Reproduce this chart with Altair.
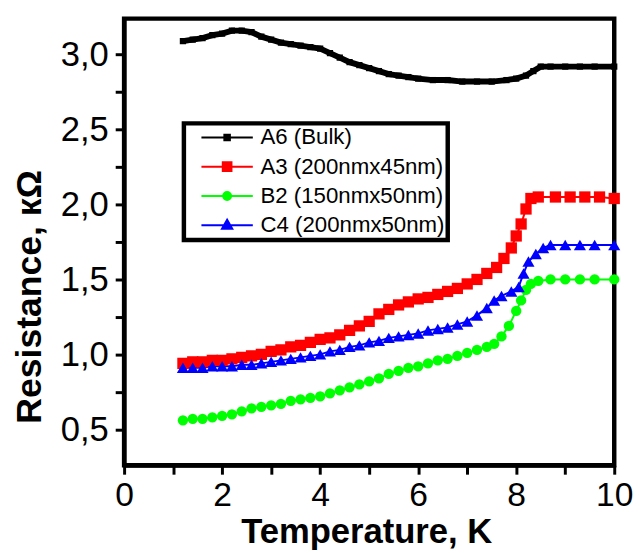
import altair as alt
import pandas as pd

series_names = ["A6 (Bulk)", "A3 (200nmx45nm)", "B2 (150nmx50nm)", "C4 (200nmx50nm)"]
series_colors = ["#000000", "#ff0000", "#00ff00", "#0000ff"]

# A6 (Bulk)
a6_t = [1.2, 1.4, 1.6, 1.8, 2.0, 2.2, 2.4, 2.6, 2.8, 3.0, 3.2, 3.4, 3.6, 3.8, 4.0, 4.2, 4.4, 4.6, 4.8, 5.0,
        5.2, 5.4, 5.6, 5.8, 6.0, 6.3, 6.6, 6.9, 7.2, 7.5, 7.8, 8.0, 8.2, 8.35, 8.5, 8.7, 9.0, 9.3, 9.6, 10.0]
a6_r = [3.09, 3.10, 3.11, 3.13, 3.14, 3.16, 3.16, 3.15, 3.12, 3.10, 3.08, 3.07, 3.06, 3.05, 3.04, 3.01, 2.98, 2.95, 2.93, 2.91,
        2.89, 2.87, 2.86, 2.85, 2.84, 2.83, 2.83, 2.82, 2.82, 2.82, 2.83, 2.84, 2.86, 2.89, 2.92, 2.92, 2.92, 2.92, 2.92, 2.92]

# A3 (200nm x 45nm)
a3_t = [1.2, 1.4, 1.6, 1.8, 2.0, 2.2, 2.4, 2.6, 2.8, 3.0, 3.2, 3.4, 3.6, 3.8, 4.0, 4.2, 4.4, 4.6, 4.8, 5.0,
        5.2, 5.4, 5.6, 5.8, 6.0, 6.2, 6.4, 6.6, 6.8, 7.0, 7.2, 7.4, 7.6, 7.75, 7.9, 8.0, 8.1, 8.2, 8.3, 8.45,
        8.8, 9.1, 9.4, 9.7, 10.0]
a3_r = [0.94, 0.95, 0.95, 0.96, 0.96, 0.97, 0.98, 0.99, 1.00, 1.02, 1.03, 1.05, 1.06, 1.08, 1.10, 1.11, 1.13, 1.16, 1.19, 1.22,
        1.27, 1.30, 1.33, 1.35, 1.37, 1.38, 1.40, 1.42, 1.44, 1.47, 1.50, 1.54, 1.58, 1.64, 1.71, 1.79, 1.87, 1.97, 2.04, 2.05,
        2.05, 2.05, 2.05, 2.05, 2.04]

# B2 (150nm x 50nm)
b2_t = [1.2, 1.4, 1.6, 1.8, 2.0, 2.2, 2.4, 2.6, 2.8, 3.0, 3.2, 3.4, 3.6, 3.8, 4.0, 4.2, 4.4, 4.6, 4.8, 5.0,
        5.2, 5.4, 5.6, 5.8, 6.0, 6.2, 6.4, 6.6, 6.8, 7.0, 7.2, 7.4, 7.55, 7.7, 7.85, 8.0, 8.1, 8.2, 8.3, 8.45,
        8.7, 9.0, 9.3, 9.6, 10.0]
b2_r = [0.56, 0.57, 0.57, 0.58, 0.59, 0.60, 0.62, 0.64, 0.65, 0.66, 0.67, 0.69, 0.70, 0.71, 0.72, 0.74, 0.76, 0.78, 0.80, 0.82,
        0.84, 0.87, 0.89, 0.91, 0.92, 0.94, 0.96, 0.97, 0.99, 1.01, 1.03, 1.05, 1.07, 1.12, 1.19, 1.29, 1.36, 1.43, 1.47, 1.49,
        1.50, 1.50, 1.50, 1.50, 1.50]

# C4 (200nm x 50nm)
c4_t = [1.2, 1.4, 1.6, 1.8, 2.0, 2.2, 2.4, 2.6, 2.8, 3.0, 3.2, 3.4, 3.6, 3.8, 4.0, 4.2, 4.4, 4.6, 4.8, 5.0,
        5.2, 5.4, 5.6, 5.8, 6.0, 6.2, 6.4, 6.6, 6.8, 7.0, 7.2, 7.4, 7.55, 7.7, 7.9, 8.05, 8.15, 8.25, 8.4, 8.55,
        8.7, 9.0, 9.3, 9.6, 10.0]
c4_r = [0.91, 0.91, 0.91, 0.92, 0.92, 0.92, 0.93, 0.93, 0.94, 0.95, 0.96, 0.97, 0.98, 0.99, 1.00, 1.02, 1.03, 1.05, 1.06, 1.08,
        1.09, 1.11, 1.12, 1.13, 1.14, 1.16, 1.17, 1.18, 1.20, 1.22, 1.26, 1.31, 1.36, 1.39, 1.42, 1.45, 1.54, 1.62, 1.67, 1.71,
        1.73, 1.73, 1.73, 1.73, 1.73]

x_ticks = list(range(0, 11))
y_ticks = [0.5, 0.75, 1.0, 1.25, 1.5, 1.75, 2.0, 2.25, 2.5, 2.75, 3.0]

# legend symbols: a line with the marker in its centre
legend_paths = [
    "M-3.25,0H3.25M-0.35,-0.35H0.35V0.35H-0.35Z",
    "M-3.25,0H3.25M-0.55,-0.55H0.55V0.55H-0.55Z",
    "M-3.25,0H3.25M-0.5,0A0.5,0.5,0,1,0,0.5,0A0.5,0.5,0,1,0,-0.5,0Z",
    "M-3.25,0H3.25M0,-0.7L0.65,0.45H-0.65Z",
]

rows = []
for name, ts, rs in zip(series_names, [a6_t, a3_t, b2_t, c4_t], [a6_r, a3_r, b2_r, c4_r]):
    for t, r in zip(ts, rs):
        rows.append({"series": name, "T": t, "R": r})
df = pd.DataFrame(rows)

FONT = "Liberation Sans, Arial, sans-serif"

x_enc = alt.X(
    "T:Q",
    scale=alt.Scale(domain=[0, 10], nice=False, zero=False),
    axis=alt.Axis(
        values=x_ticks,
        labelExpr="datum.value % 2 == 0 ? datum.label : ''",
        title="Temperature, K",
        titleFont=FONT, titleFontSize=35, titleFontWeight="bold", titleColor="black",
        titleBaseline="alphabetic", titleY=78, titleX=245, titleAnchor="middle",
        labelFont=FONT, labelFontSize=34, labelColor="black", labelPadding=4.5,
        labelFlush=False, labelOverlap=False,
        domainColor="black", domainWidth=4, tickColor="black", tickWidth=3, tickSize=9,
        grid=False,
    ),
)
y_enc = alt.Y(
    "R:Q",
    scale=alt.Scale(domain=[0.26, 3.24], nice=False, zero=False),
    axis=alt.Axis(
        values=y_ticks,
        labelExpr="datum.value % 0.5 == 0 ? replace(format(datum.value, '.1f'), '.', ',') : ''",
        title="Resistance, кΩ",
        titleFont=FONT, titleFontSize=36, titleFontWeight="bold", titleColor="black",
        titleAngle=270, titleBaseline="alphabetic", titleX=-84.5, titleY=281, titleAlign="center",
        labelFont=FONT, labelFontSize=35, labelColor="black", labelPadding=7,
        labelFlush=False, labelOverlap=False,
        domainColor="black", domainWidth=4, tickColor="black", tickWidth=3, tickSize=9,
        grid=False,
    ),
)

base = alt.Chart(df)
layers = []

line_widths = [6, 2, 2, 2]
for name, col, lw in zip(series_names, series_colors, line_widths):
    layers.append(
        base.transform_filter(alt.datum.series == name)
        .mark_line(color=col, strokeWidth=lw)
        .encode(x=x_enc, y=y_enc)
    )

marker_marks = [
    dict(kind="square", size=40),
    dict(kind="square", size=130),
    dict(kind="circle", size=110),
    dict(kind="triangle", size=150),
]
for name, col, mm in zip(series_names, series_colors, marker_marks):
    b = base.transform_filter(alt.datum.series == name)
    if mm["kind"] == "square":
        m = b.mark_square(color=col, size=mm["size"], opacity=1)
    elif mm["kind"] == "circle":
        m = b.mark_circle(color=col, size=mm["size"], opacity=1)
    else:
        m = b.mark_point(shape="triangle-up", filled=True, color=col, size=mm["size"], opacity=1)
    layers.append(m.encode(x=x_enc, y=y_enc))

legend_layer = (
    base.transform_filter("false")
    .mark_point(filled=True, opacity=1)
    .encode(
        x=x_enc,
        y=y_enc,
        color=alt.Color(
            "series:N",
            scale=alt.Scale(domain=series_names, range=series_colors),
            legend=alt.Legend(
                title=None, orient="none", legendX=60.5, legendY=106,
                padding=3, rowPadding=6.6,
                labelFont=FONT, labelFontSize=22.5, labelColor="black", labelOffset=22.5,
                labelLimit=400,
                symbolSize=256, symbolOffset=29.5, symbolStrokeWidth=2, symbolOpacity=1,
                strokeColor="black", fillColor="white",
            ),
        ),
        stroke=alt.Stroke("series:N", scale=alt.Scale(domain=series_names, range=series_colors)),
        shape=alt.Shape("series:N", scale=alt.Scale(domain=series_names, range=legend_paths)),
    )
)
layers.append(legend_layer)

chart = (
    alt.layer(*layers)
    .properties(
        width=496, height=452,
        autosize=alt.AutoSizeParams(type="none"),
        padding={"left": 117.5, "top": 7.5, "right": 20, "bottom": 85},
        background="white",
    )
    .configure_view(stroke="black", strokeWidth=4.5)
    .configure_legend(strokeWidth=4.5)
)

chart.save("out.html", embed_options={"renderer": "svg", "actions": False})
